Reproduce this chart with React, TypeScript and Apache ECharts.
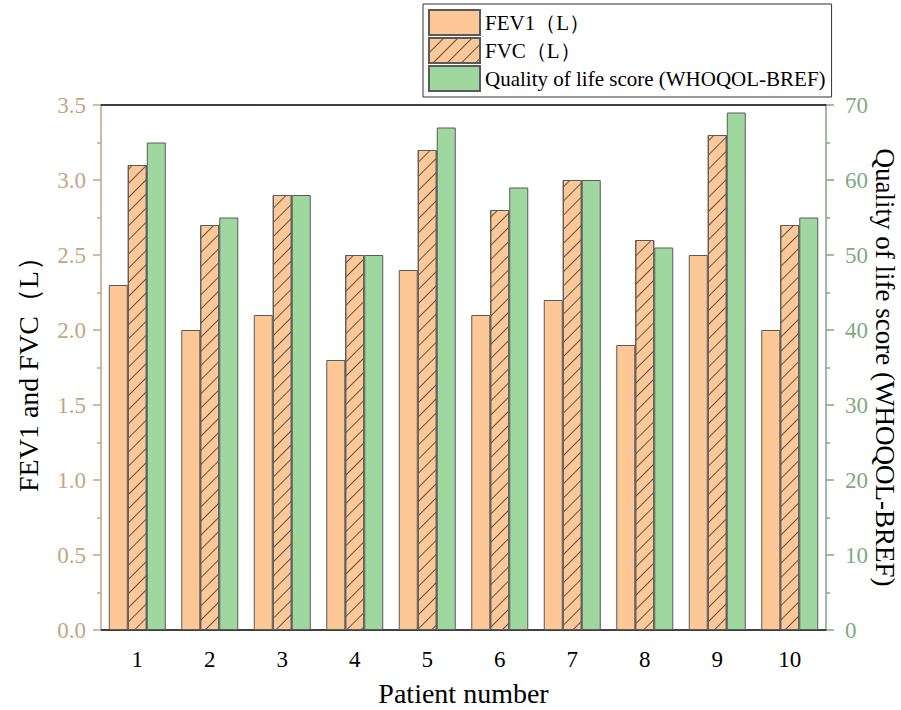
import React, { useEffect, useRef } from "react";
import * as echarts from "echarts";

const categories = ["1", "2", "3", "4", "5", "6", "7", "8", "9", "10"];
const fev1 = [2.3, 2.0, 2.1, 1.8, 2.4, 2.1, 2.2, 1.9, 2.5, 2.0];
const fvc = [3.1, 2.7, 2.9, 2.5, 3.2, 2.8, 3.0, 2.6, 3.3, 2.7];
const qol = [65, 55, 58, 50, 67, 59, 60, 51, 69, 55];
const seriesNames = ["FEV1（L）", "FVC（L）", "Quality of life score (WHOQOL-BREF)"];

const SERIF = "'Liberation Serif', 'Times New Roman', serif";
const TICKFONT = "'Liberation Serif', serif";
const LEFT_C = "#C4A584";
const RIGHT_C = "#7FA97F";
const ORANGE = "#FDC896";
const GREEN = "#9ED89E";
const EDGE = "#5a5a5a";

export default function App() {
  const ref = useRef<HTMLDivElement>(null);
  useEffect(() => {
    const chart = echarts.init(ref.current!, null, { renderer: "svg" });
    const decal = {
      symbol: "rect",
      symbolSize: 1,
      dashArrayX: [1, 0],
      dashArrayY: [1, 9],
      rotation: -Math.PI / 4,
      color: "#555",
    };
    chart.setOption({
      animation: false,
      backgroundColor: "#fff",
      grid: { left: 101, right: 75, top: 105, bottom: 80, outerBoundsMode: "none", containLabel: false },
      legend: {
        orient: "vertical",
        left: 423,
        top: 4,
        padding: [5, 6, 5, 5],
        itemWidth: 51,
        itemHeight: 25,
        itemGap: 1,
        icon: "rect",
        borderColor: "#333",
        borderWidth: 1,
        borderRadius: 0,
        textStyle: { fontFamily: SERIF, fontSize: 21, color: "#000" },
        data: seriesNames,
      },
      xAxis: [
        {
          type: "category",
          data: categories,
          position: "bottom",
          name: "Patient number",
          nameLocation: "middle",
          nameGap: 49,
          nameTextStyle: { fontFamily: SERIF, fontSize: 28, color: "#000" },
          axisLine: { lineStyle: { color: "#000", width: 1.5 } },
          axisTick: { alignWithLabel: true, length: 9, lineStyle: { color: "#000", width: 1.5 } },
          axisLabel: { fontFamily: TICKFONT, fontSize: 23, color: "#000", margin: 18 },
        },
        {
          type: "category",
          data: categories,
          position: "bottom",
          axisLine: { show: false },
          axisTick: { length: 4, lineStyle: { color: "#000", width: 1.5 } },
          axisLabel: { show: false },
        },
        {
          type: "category",
          data: categories,
          position: "top",
          axisLine: { lineStyle: { color: "#000", width: 1.5 } },
          axisTick: { alignWithLabel: true, inside: true, length: 6, lineStyle: { color: "#000", width: 1.5 } },
          axisLabel: { show: false },
        },
      ],
      yAxis: [
        {
          type: "value",
          min: 0,
          max: 3.5,
          interval: 0.5,
          position: "left",
          name: "FEV1 and FVC（L）",
          nameLocation: "middle",
          nameGap: 59,
          nameTextStyle: { fontFamily: SERIF, fontSize: 28, color: "#000" },
          axisLine: { show: true, lineStyle: { color: LEFT_C, width: 1.5 } },
          axisTick: { show: true, length: 8, lineStyle: { color: LEFT_C, width: 1.5 } },
          minorTick: { show: true, splitNumber: 2, length: 4, lineStyle: { color: LEFT_C, width: 1.5 } },
          axisLabel: {
            fontFamily: TICKFONT,
            fontSize: 23,
            color: LEFT_C,
            margin: 15,
            formatter: (v: number) => v.toFixed(1),
          },
          splitLine: { show: false },
        },
        {
          type: "value",
          min: 0,
          max: 70,
          interval: 10,
          position: "right",
          name: "Quality of life score (WHOQOL-BREF)",
          nameLocation: "middle",
          nameRotate: -90,
          nameGap: 45,
          nameMoveOverlap: false,
          nameTextStyle: { fontFamily: SERIF, fontSize: 27, color: "#000", lineHeight: 28 },
          axisLine: { show: true, lineStyle: { color: RIGHT_C, width: 1.5 } },
          axisTick: { show: true, length: 8, lineStyle: { color: RIGHT_C, width: 1.5 } },
          minorTick: { show: true, splitNumber: 2, length: 4, lineStyle: { color: RIGHT_C, width: 1.5 } },
          axisLabel: { fontFamily: TICKFONT, fontSize: 23, color: RIGHT_C, margin: 19 },
          splitLine: { show: false },
        },
      ],
      series: [
        {
          name: seriesNames[0],
          type: "bar",
          xAxisIndex: 0,
          yAxisIndex: 0,
          data: fev1,
          barWidth: 19,
          barGap: "0%",
          itemStyle: { color: ORANGE, borderColor: EDGE, borderWidth: 1 },
        },
        {
          name: seriesNames[1],
          type: "bar",
          xAxisIndex: 0,
          yAxisIndex: 0,
          data: fvc,
          barWidth: 19,
          barGap: "0%",
          itemStyle: { color: ORANGE, borderColor: EDGE, borderWidth: 1, decal },
        },
        {
          name: seriesNames[2],
          type: "bar",
          xAxisIndex: 0,
          yAxisIndex: 1,
          data: qol,
          barWidth: 19,
          barGap: "0%",
          itemStyle: { color: GREEN, borderColor: EDGE, borderWidth: 1 },
        },
      ],
    });
    return () => chart.dispose();
  }, []);
  return <div ref={ref} style={{ width: 901, height: 710, position: "absolute", left: 0, top: 0 }} />;
}
